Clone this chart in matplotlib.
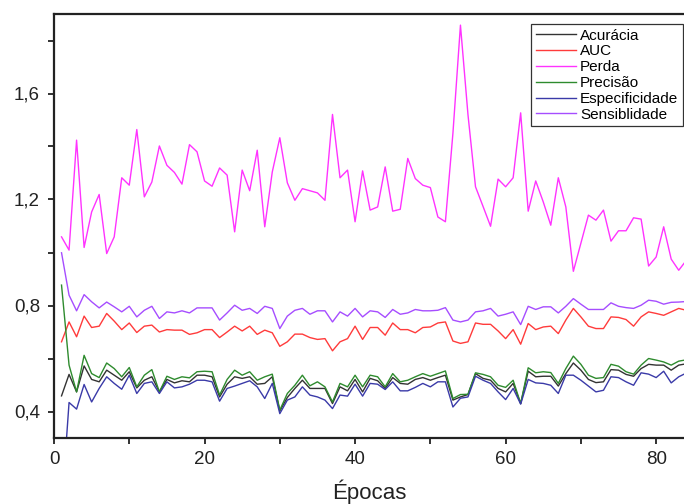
import matplotlib
matplotlib.use("Agg")
import matplotlib.pyplot as plt
from matplotlib.ticker import MultipleLocator, FuncFormatter

plt.rcParams["font.family"] = ["Liberation Sans", "DejaVu Sans"]

epocas = list(range(1, 85))

acuracia = [0.459, 0.540, 0.474, 0.572, 0.521, 0.512, 0.556, 0.537, 0.518, 0.550,
            0.489, 0.518, 0.531, 0.474, 0.521, 0.508, 0.516, 0.512, 0.537, 0.537,
            0.531, 0.455, 0.503, 0.531, 0.525, 0.531, 0.503, 0.506, 0.531, 0.402,
            0.453, 0.487, 0.518, 0.487, 0.487, 0.487, 0.430, 0.493, 0.478, 0.521,
            0.474, 0.525, 0.516, 0.487, 0.528, 0.506, 0.503, 0.521, 0.528, 0.518,
            0.528, 0.537, 0.443, 0.455, 0.464, 0.543, 0.525, 0.518, 0.487, 0.474,
            0.506, 0.430, 0.552, 0.531, 0.533, 0.533, 0.496, 0.543, 0.583, 0.556,
            0.521, 0.509, 0.512, 0.558, 0.556, 0.540, 0.533, 0.562, 0.578, 0.575,
            0.575, 0.556, 0.575, 0.580]

auc = [0.663, 0.738, 0.682, 0.760, 0.717, 0.722, 0.770, 0.741, 0.709, 0.734,
       0.698, 0.722, 0.726, 0.700, 0.709, 0.707, 0.707, 0.691, 0.697, 0.709,
       0.709, 0.679, 0.700, 0.722, 0.704, 0.722, 0.691, 0.707, 0.697, 0.646,
       0.663, 0.692, 0.692, 0.679, 0.672, 0.675, 0.629, 0.663, 0.675, 0.722,
       0.672, 0.717, 0.717, 0.688, 0.734, 0.709, 0.709, 0.697, 0.717, 0.719,
       0.734, 0.738, 0.666, 0.657, 0.663, 0.734, 0.729, 0.729, 0.704, 0.675,
       0.709, 0.654, 0.732, 0.709, 0.719, 0.722, 0.694, 0.745, 0.789, 0.757,
       0.722, 0.713, 0.713, 0.757, 0.755, 0.747, 0.722, 0.757, 0.776, 0.770,
       0.763, 0.776, 0.789, 0.782]

perda = [1.059, 1.009, 1.424, 1.019, 1.153, 1.219, 0.996, 1.059, 1.282, 1.254,
         1.464, 1.210, 1.266, 1.402, 1.329, 1.302, 1.258, 1.407, 1.380, 1.270,
         1.250, 1.319, 1.292, 1.078, 1.311, 1.233, 1.386, 1.097, 1.304, 1.433,
         1.263, 1.197, 1.241, 1.233, 1.225, 1.197, 1.521, 1.282, 1.311, 1.116,
         1.308, 1.160, 1.172, 1.323, 1.156, 1.163, 1.355, 1.279, 1.254, 1.245,
         1.134, 1.116, 1.450, 1.858, 1.520, 1.248, 1.174, 1.099, 1.277, 1.248,
         1.282, 1.527, 1.156, 1.270, 1.191, 1.103, 1.282, 1.172, 0.929, 1.035,
         1.141, 1.122, 1.160, 1.043, 1.082, 1.082, 1.131, 1.126, 0.949, 0.983,
         1.097, 0.975, 0.933, 0.970]

precisao = [0.877, 0.575, 0.474, 0.612, 0.543, 0.528, 0.583, 0.562, 0.531, 0.566,
            0.493, 0.537, 0.558, 0.474, 0.533, 0.521, 0.531, 0.527, 0.550, 0.552,
            0.550, 0.462, 0.521, 0.556, 0.537, 0.550, 0.518, 0.531, 0.541, 0.405,
            0.468, 0.499, 0.537, 0.497, 0.512, 0.493, 0.436, 0.506, 0.493, 0.537,
            0.493, 0.537, 0.531, 0.493, 0.543, 0.512, 0.518, 0.531, 0.543, 0.533,
            0.543, 0.553, 0.449, 0.464, 0.465, 0.546, 0.540, 0.531, 0.499, 0.491,
            0.518, 0.430, 0.565, 0.546, 0.550, 0.547, 0.506, 0.562, 0.609, 0.578,
            0.537, 0.525, 0.528, 0.578, 0.571, 0.550, 0.541, 0.575, 0.600, 0.594,
            0.587, 0.575, 0.590, 0.595]

especificidade = [0.030, 0.434, 0.409, 0.502, 0.436, 0.487, 0.531, 0.506, 0.484, 0.537,
                  0.468, 0.506, 0.512, 0.468, 0.512, 0.489, 0.493, 0.503, 0.518, 0.518,
                  0.512, 0.439, 0.487, 0.496, 0.506, 0.516, 0.493, 0.449, 0.506, 0.392,
                  0.443, 0.455, 0.493, 0.462, 0.455, 0.443, 0.411, 0.462, 0.458, 0.503,
                  0.458, 0.506, 0.503, 0.483, 0.512, 0.478, 0.478, 0.491, 0.506, 0.493,
                  0.512, 0.512, 0.417, 0.450, 0.455, 0.533, 0.518, 0.506, 0.474, 0.445,
                  0.487, 0.428, 0.521, 0.508, 0.506, 0.499, 0.468, 0.537, 0.537, 0.518,
                  0.496, 0.474, 0.480, 0.531, 0.528, 0.512, 0.499, 0.546, 0.541, 0.528,
                  0.552, 0.508, 0.531, 0.545]

sensibilidade = [0.999, 0.839, 0.780, 0.841, 0.814, 0.791, 0.813, 0.795, 0.776, 0.797,
                 0.757, 0.782, 0.797, 0.751, 0.776, 0.772, 0.780, 0.772, 0.791, 0.791,
                 0.791, 0.745, 0.772, 0.801, 0.782, 0.789, 0.770, 0.797, 0.789, 0.713,
                 0.760, 0.782, 0.789, 0.767, 0.780, 0.780, 0.738, 0.776, 0.760, 0.789,
                 0.757, 0.780, 0.776, 0.755, 0.785, 0.767, 0.772, 0.785, 0.780, 0.780,
                 0.782, 0.792, 0.745, 0.738, 0.745, 0.776, 0.780, 0.789, 0.760, 0.767,
                 0.776, 0.728, 0.797, 0.785, 0.795, 0.795, 0.772, 0.797, 0.826, 0.805,
                 0.785, 0.785, 0.785, 0.810, 0.797, 0.792, 0.789, 0.801, 0.820, 0.816,
                 0.805, 0.812, 0.813, 0.815]

series = [
    ("Acurácia", acuracia, "#333333"),
    ("AUC", auc, "#ff3b3b"),
    ("Perda", perda, "#ff33ff"),
    ("Precisão", precisao, "#2e8b2e"),
    ("Especificidade", especificidade, "#3a3aa8"),
    ("Sensiblidade", sensibilidade, "#a64dff"),
]


def virgula(v, pos):
    # rótulos com vírgula decimal
    return ("%.1f" % v).replace(".", ",")


fig = plt.figure(figsize=(6.84, 5.04), dpi=100, facecolor="white")
ax = fig.add_axes([54 / 684, 66 / 504, 630 / 684, 424 / 504])

for nome, valores, cor in series:
    ax.plot(epocas, valores, color=cor, linewidth=1.0, label=nome)

ax.set_xlim(0, 83.7)
ax.set_ylim(0.3, 1.9)

ax.xaxis.set_major_locator(MultipleLocator(20))
ax.xaxis.set_minor_locator(MultipleLocator(10))
ax.yaxis.set_major_locator(MultipleLocator(0.4))
ax.yaxis.set_minor_locator(MultipleLocator(0.2))
ax.yaxis.set_major_formatter(FuncFormatter(virgula))

ax.tick_params(which="both", direction="out", length=4, width=1.3, colors="#222222")
ax.tick_params(axis="both", labelsize=13.5, labelcolor="#222222")
ax.tick_params(axis="x", pad=5)
ax.tick_params(axis="y", pad=6)

ax.spines["right"].set_visible(False)
for lado in ["left", "top", "bottom"]:
    ax.spines[lado].set_linewidth(1.6)
    ax.spines[lado].set_color("#222222")

ax.set_xlabel("Épocas", fontsize=16, color="#222222", labelpad=9)

leg = ax.legend(loc="upper right", bbox_to_anchor=(683 / 684, 1 - 24 / 504),
                bbox_transform=fig.transFigure, borderaxespad=0,
                fontsize=11, labelspacing=0.12, handlelength=2.6,
                handletextpad=0.3, borderpad=0.3, fancybox=False,
                framealpha=1, edgecolor="#333333")
leg.get_frame().set_linewidth(0.9)

fig.savefig("out.png", dpi=100, facecolor="white")
